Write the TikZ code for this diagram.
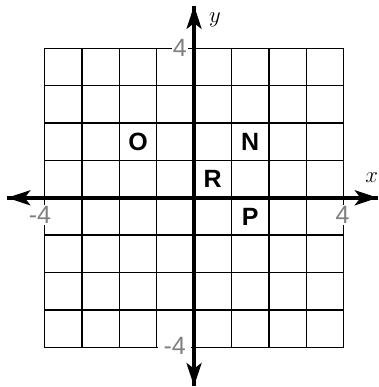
\documentclass[tikz,border=0pt]{standalone}
\usepackage{fontspec}
\setsansfont{Liberation Sans}
\usetikzlibrary{arrows.meta}

\begin{document}
\begin{tikzpicture}[>={Stealth[length=6.2mm,width=4mm,inset=1.5mm]},
	gridline/.style={line width=1.1pt,black},
	axis/.style={line width=2.8pt,->},
	pt/.style={font=\sffamily\bfseries\fontsize{19}{19}\selectfont},
	ticklab/.style={font=\sffamily\fontsize{19}{19}\selectfont,text=black!50,fill=white,inner sep=1pt}]
	\useasboundingbox (-5.19,-5.06) rectangle (4.92,5.29);
	\draw[gridline] (-4,-4) grid (4,4);
	\node[ticklab] (ytop) at (-0.38,4) {4};
	\node[ticklab] (xleft) at (-4.12,-0.46) {-4};
	\node[ticklab] (xright) at (3.97,-0.46) {4};
	\node[ticklab,minimum width=9mm] (ybot) at (-0.52,-3.97) {-4};
	\coordinate (xs) at (-5.0,0);
	\coordinate (xe) at (4.92,0);
	\coordinate (ys) at (0,-5.04);
	\coordinate (ye) at (0,5.14);
	\draw[axis] (xe)--(xs);
	\draw[axis] (xs)--(xe);
	\draw[axis] (ye)--(ys);
	\draw[axis] (ys)--(ye);
	\node[font=\fontsize{18}{18}\selectfont] (xlab) at (4.75,0.54) {$x$};
	\node[font=\fontsize{18}{18}\selectfont] (ylab) at (0.56,4.77) {$y$};
	\foreach \lab/\px/\py in {O/-1.5/1.5,N/1.5/1.5,R/0.5/0.5,P/1.5/-0.5}
		\node[pt] (pt\lab) at (\px,\py) {\lab};
\end{tikzpicture}
\end{document}
